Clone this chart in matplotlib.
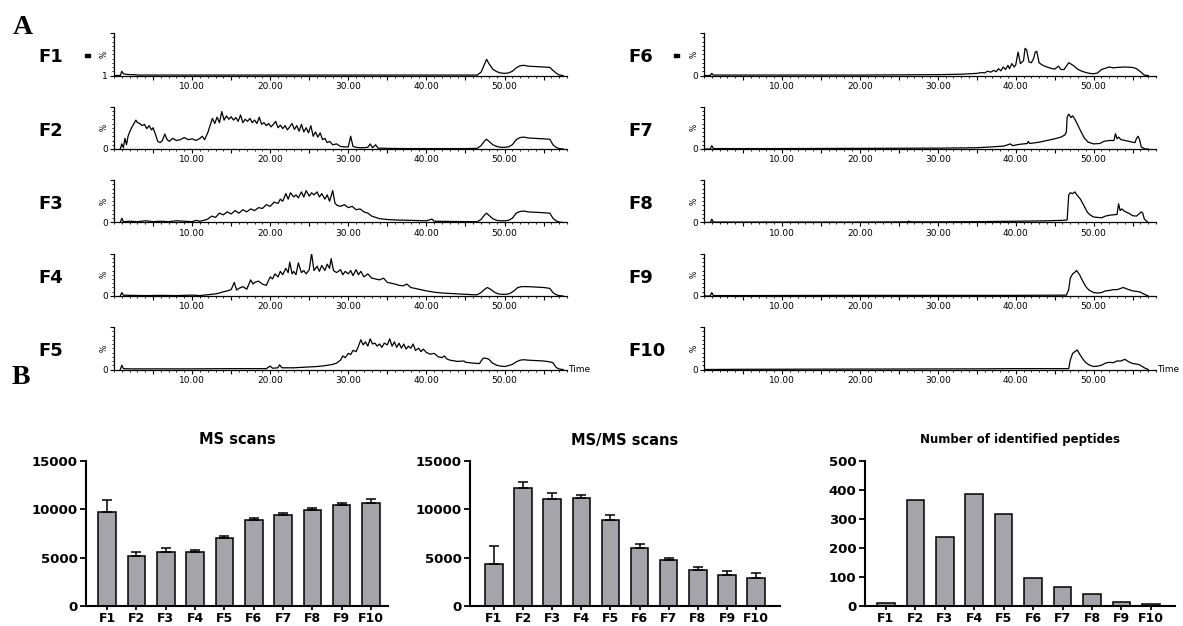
import matplotlib
matplotlib.use("Agg")
import matplotlib.pyplot as plt
from matplotlib.ticker import FixedLocator, FuncFormatter, MultipleLocator
from matplotlib.patches import Rectangle

W, H = 1183, 626

# ---- chromatogram traces (time in min, intensity in %) ----
f1_t = [0, 0.8, 1.0, 1.2, 1.5, 2.0, 2.5, 3.0, 5, 10, 20, 30, 40, 45, 46.5, 47.0, 47.4, 47.7, 48.0, 48.5,
        49.0, 49.5, 50.0, 50.5, 51.0, 51.5, 52.0, 52.5, 53.0, 54.0, 55.0, 55.8, 56.2, 56.6, 57.0, 57.5]
f1_v = [0, 0, 10, 4, 3, 2, 2, 1, 1, 1, 1, 1, 1, 1, 1, 8, 25, 38, 28, 15,
        9, 6, 5, 6, 10, 18, 23, 24, 22, 21, 20, 19, 12, 6, 1, 0]

f2_t = [0.8, 1.0, 1.2, 1.4, 1.6, 1.8, 2.0, 2.2, 2.5, 2.8, 3.0, 3.3, 3.6, 3.9, 4.2, 4.5, 4.8, 5.0, 5.3, 5.6,
        5.9, 6.2, 6.5, 6.8, 7.1, 7.5, 8.0, 8.5, 9.0, 9.5, 10.0, 10.5, 11.0, 11.3, 11.6, 12.0, 12.3, 12.6, 12.9, 13.2,
        13.5, 13.8, 14.1, 14.4, 14.7, 15.0, 15.3, 15.6, 15.9, 16.2, 16.5, 16.8, 17.1, 17.4, 17.7, 18.0, 18.3, 18.6, 18.9, 19.2,
        19.5, 19.8, 20.1, 20.4, 20.7, 21.0, 21.3, 21.6, 21.9, 22.2, 22.5, 22.8, 23.1, 23.4, 23.7, 24.0, 24.3, 24.6, 24.9, 25.2,
        25.5, 25.8, 26.1, 26.4, 26.7, 27.0, 27.3, 27.6, 28.0, 28.5, 29.0, 29.5, 30.0, 30.3, 30.6, 31.0, 31.5, 32.0, 32.5, 32.8,
        33.1, 33.5, 33.8, 34.2, 35, 37, 40, 43, 45, 46.5,
        47.0, 47.4, 47.7, 48.0, 48.5, 49.0, 49.5, 50.0, 50.5, 51.0, 51.5, 52.0, 52.5, 53.0, 54.0, 55.0, 55.8, 56.2, 56.6, 57.0, 57.5]
f2_v = [0, 12, 3, 25, 10, 30, 40, 48, 58, 68, 62, 60, 55, 58, 48, 55, 45, 50, 35, 18,
        15, 20, 35, 22, 18, 25, 20, 22, 27, 22, 24, 20, 25, 30, 22, 38, 55, 72, 60, 75,
        62, 88, 68, 78, 70, 76, 68, 74, 65, 80, 62, 70, 65, 72, 62, 68, 60, 75, 58, 62,
        55, 60, 52, 58, 65, 50, 56, 48, 55, 45, 52, 60, 46, 55, 42, 58, 40, 50, 38, 55,
        30, 40, 28, 38, 22, 25, 15, 18, 10, 12, 6, 5, 5, 30, 6, 4, 3, 3, 4, 12,
        3, 10, 2, 2, 1.5, 1, 1, 1, 1, 1.5,
        8, 18, 23, 18, 10, 6, 4, 4, 5, 10, 22, 27, 28, 26, 25, 24, 23, 10, 4, 1, 0]

f3_t = [0.8, 1.0, 1.2, 2, 3, 4, 5, 6, 7, 8, 9, 10, 10.5, 11, 11.5, 12, 12.5, 13, 13.5, 14,
        14.5, 15, 15.5, 16, 16.5, 17, 17.5, 18, 18.5, 19, 19.5, 20, 20.5, 21, 21.3, 21.6, 22, 22.3, 22.6, 23,
        23.3, 23.6, 24, 24.3, 24.6, 25, 25.3, 25.6, 26, 26.3, 26.6, 27, 27.3, 27.6, 28, 28.3, 28.6, 29, 29.5, 30,
        30.5, 31, 31.5, 32, 32.5, 33, 33.5, 34, 35, 36, 38, 40, 40.7, 41, 43, 45, 46.5,
        47.0, 47.4, 47.7, 48.0, 48.5, 49.0, 49.5, 50.0, 50.5, 51.0, 51.5, 52.0, 52.5, 53.0, 54.0, 55.0, 55.8, 56.2, 56.6, 57.0, 57.5]
f3_v = [0, 10, 2, 3, 2, 4, 2, 3, 2, 4, 3, 2, 5, 3, 5, 8, 15, 12, 22, 18,
        25, 20, 28, 22, 30, 25, 32, 28, 35, 33, 42, 38, 48, 45, 55, 50, 68, 55, 70, 60,
        65, 58, 72, 60, 75, 62, 70, 65, 72, 60, 68, 55, 65, 50, 75, 45, 40, 38, 42, 35,
        38, 30, 32, 25, 22, 15, 12, 9, 7, 6, 5, 4, 8, 3, 2.5, 2, 2,
        7, 17, 22, 17, 9, 5, 4, 4, 5, 10, 22, 26, 27, 25, 24, 23, 22, 10, 4, 1, 0]

f4_t = [0.8, 1.0, 1.2, 2, 4, 6, 8, 10, 11, 12, 13, 13.5, 14, 14.5, 15, 15.4, 15.7, 16, 16.5, 17,
        17.5, 17.8, 18, 18.5, 19, 19.5, 20, 20.3, 20.6, 21, 21.3, 21.6, 22, 22.3, 22.5, 22.8, 23, 23.3, 23.6, 24,
        24.3, 24.6, 25, 25.3, 25.6, 26, 26.3, 26.6, 27, 27.3, 27.6, 27.8, 28.1, 28.5, 29, 29.3, 29.6, 30, 30.3, 30.6,
        31, 31.3, 31.6, 32, 32.5, 33, 33.5, 34, 34.5, 35, 35.5, 36, 36.5, 37, 37.5, 38, 39, 40, 41, 42,
        43, 44, 45, 46, 46.5,
        47.0, 47.4, 47.8, 48.2, 48.7, 49.2, 49.7, 50.2, 50.7, 51.2, 51.7, 52.2, 53.0, 54.0, 55.0, 55.8, 56.2, 56.6, 57.0, 57.5]
f4_v = [0, 8, 2, 1.5, 1, 1.5, 1, 2, 1, 3, 5, 7, 10, 12, 15, 32, 14, 18, 22, 16,
        38, 28, 32, 35, 28, 25, 45, 40, 52, 45, 58, 50, 65, 55, 80, 52, 58, 50, 78, 55,
        60, 52, 62, 100, 60, 70, 58, 72, 60, 75, 65, 88, 60, 55, 62, 50, 58, 52, 60, 48,
        62, 50, 58, 45, 52, 42, 40, 38, 42, 32, 30, 28, 25, 24, 28, 20, 16, 12, 9, 7,
        6, 5, 4, 3, 3,
        8, 15, 20, 16, 9, 5, 4, 4, 6, 12, 20, 22, 22, 21, 20, 18, 8, 3, 1, 0]

f5_t = [0.8, 1.0, 1.2, 2, 5, 10, 15, 19.5, 20, 20.3, 21, 21.2, 21.5, 22, 23, 24, 25, 26, 27, 28,
        28.5, 29, 29.3, 29.6, 30, 30.3, 30.6, 31, 31.3, 31.6, 31.9, 32.2, 32.5, 32.8, 33.1, 33.4, 33.7, 34, 34.3, 34.6,
        35, 35.3, 35.6, 35.9, 36.2, 36.5, 36.8, 37.1, 37.4, 37.7, 38, 38.3, 38.6, 39, 39.3, 39.6, 40, 40.5, 41, 41.5,
        42, 42.3, 42.6, 43, 44, 44.8, 45, 46, 46.8,
        47.0, 47.3, 47.7, 48.0, 48.4, 49.0, 49.5, 50.0, 50.5, 51.0, 51.5, 52.0, 52.5, 53.0, 54.0, 55.0, 55.8, 56.2, 56.6, 57.0, 57.5]
f5_v = [0, 10, 2, 1.5, 1.5, 1.5, 2, 2, 8, 3, 4, 11, 4, 4, 4, 5, 6, 7, 9, 12,
        15, 22, 32, 28, 38, 35, 45, 42, 55, 70, 58, 65, 55, 72, 60, 62, 55, 60, 52, 62,
        58, 72, 55, 65, 52, 62, 50, 60, 48, 55, 50, 60, 45, 50, 42, 48, 40, 36, 38, 30,
        28, 32, 25, 22, 19, 20, 17, 15, 14,
        20, 27, 26, 24, 16, 10, 8, 7, 9, 12, 18, 22, 23, 22, 21, 20, 18, 16, 5, 1, 0]

f6_t = [0, 0.8, 1.0, 1.2, 3, 10, 20, 25, 30, 33, 34, 35, 35.6, 36, 36.4, 36.8, 37.2, 37.5, 37.8, 38.1,
        38.4, 38.7, 39, 39.2, 39.5, 39.8, 40, 40.3, 40.6, 41, 41.2, 41.4, 41.7, 42, 42.3, 42.5, 42.7, 43, 43.3, 43.7,
        44, 44.5, 45, 45.5, 45.8, 46.2, 46.5, 46.8, 47.1, 47.5, 48, 48.5, 49, 49.5, 50, 50.5, 51, 51.5, 52, 52.5,
        53, 54, 55, 55.5, 56, 56.5, 57]
f6_v = [0, 0, 5, 1, 1, 1, 1, 1.5, 2, 3, 4, 5, 7, 6, 10, 8, 12, 9, 16, 11,
        20, 14, 24, 16, 28, 20, 25, 55, 28, 35, 64, 60, 32, 30, 40, 55, 57, 30, 26, 22,
        20, 17, 15, 22, 14, 14, 22, 30, 27, 22, 14, 10, 7, 5, 4, 6, 14, 17, 20, 18,
        19, 20, 19, 16, 9, 1, 0]

f7_t = [0, 0.8, 1.0, 1.2, 3, 10, 20, 30, 33, 35, 37, 38.5, 39.3, 39.6, 40.5, 41.5, 41.6, 41.8, 43, 44,
        45, 45.8, 46.3, 46.5, 46.6, 46.8, 47.1, 47.3, 47.6, 48, 48.4, 48.8, 49.3, 50, 50.8, 51.3, 52, 52.6, 52.8, 53,
        53.2, 53.5, 54.3, 55, 55.3, 55.5, 55.7, 55.9, 56.1, 56.6, 57]
f7_v = [0, 0, 8, 1, 1, 1, 1.5, 2, 2.5, 3, 5, 7, 12, 8, 11, 13, 18, 13, 16, 20,
        24, 28, 33, 40, 75, 82, 74, 78, 70, 55, 40, 26, 16, 12, 13, 18, 20, 20, 36, 24,
        28, 22, 19, 16, 15, 25, 30, 22, 5, 0, 0]

f8_t = [0, 0.8, 1.0, 1.2, 5, 20, 26, 26.3, 26.5, 30, 35, 40, 42, 44, 46, 46.6, 46.8, 47, 47.3, 47.6,
        47.8, 48.3, 48.8, 49.2, 49.6, 50, 51, 51.5, 52, 53, 53.2, 53.4, 53.6, 54, 54.5, 55, 55.5, 55.8, 56.1, 56.3,
        56.5, 57]
f8_v = [0, 0, 8, 1, 1, 1, 1.5, 3, 1.5, 1.5, 2, 3, 3.5, 4, 5, 6, 65, 70, 68, 72,
        66, 55, 38, 24, 17, 13, 11, 15, 17, 19, 44, 28, 32, 26, 22, 16, 15, 20, 25, 22,
        8, 0]

f9_t = [0, 0.8, 1.0, 1.2, 5, 20, 30, 40, 46.5, 46.8, 47, 47.3, 47.6, 47.8, 48.2, 48.6, 49, 49.4, 50, 50.5,
        51, 51.5, 52, 52.5, 53, 53.5, 53.8, 54.2, 55, 55.5, 56, 56.5, 57]
f9_v = [0, 0, 8, 1, 1, 1.5, 1.5, 1.5, 2, 15, 42, 52, 56, 60, 50, 35, 22, 14, 8, 7,
        8, 12, 13, 15, 15, 18, 20, 17, 12, 11, 9, 4, 0]

f10_t = [0, 5, 20, 35, 40, 45, 46.8, 47, 47.3, 47.6, 47.9, 48.2, 48.6, 49, 49.5, 50, 50.5, 51, 51.5, 52,
         52.5, 53, 53.5, 54, 54.5, 55, 55.5, 56, 56.5, 57]
f10_v = [0, 0.5, 1, 1.5, 2, 2, 2, 22, 38, 42, 46, 36, 25, 16, 10, 7, 8, 10, 15, 17,
         16, 20, 20, 24, 18, 14, 13, 10, 4, 0]

trace_names = ["F1", "F2", "F3", "F4", "F5", "F6", "F7", "F8", "F9", "F10"]
trace_t = [f1_t, f2_t, f3_t, f4_t, f5_t, f6_t, f7_t, f8_t, f9_t, f10_t]
trace_v = [f1_v, f2_v, f3_v, f4_v, f5_v, f6_v, f7_v, f8_v, f9_v, f10_v]

# ---- bar chart data ----
fractions = ["F1", "F2", "F3", "F4", "F5", "F6", "F7", "F8", "F9", "F10"]
ms_scans = [9750, 5150, 5550, 5550, 7000, 8900, 9430, 9940, 10400, 10680]
ms_scans_err = [1200, 400, 500, 250, 230, 200, 230, 150, 270, 370]
msms_scans = [4380, 12230, 11050, 11160, 8930, 6030, 4720, 3770, 3240, 2930]
msms_scans_err = [1800, 570, 680, 370, 510, 370, 270, 270, 360, 440]
peptides = [11, 367, 237, 387, 317, 97, 64, 40, 13, 7]


def px_axes(l, t, r, b):
    return [l / W, 1 - b / H, (r - l) / W, (b - t) / H]


fig = plt.figure(figsize=(W / 100, H / 100), dpi=100)

row_tops = [33, 106.5, 180, 253.5, 327]
row_h = 42.5
col_x = [(114, 567), (704, 1156)]
label_x = [38, 628]

for i, name in enumerate(trace_names):
    col = i // 5
    row = i % 5
    l, r = col_x[col]
    top = row_tops[row]
    ax = fig.add_axes(px_axes(l, top, r, top + row_h))
    ax.plot(trace_t[i], trace_v[i], color="black", lw=0.9)
    ax.set_xlim(0, 58)
    ax.set_ylim(0, 100)
    for s in ["top", "right"]:
        ax.spines[s].set_visible(False)
    ax.spines["left"].set_linewidth(0.9)
    ax.spines["bottom"].set_linewidth(0.9)
    ax.xaxis.set_major_locator(FixedLocator([5, 10, 15, 20, 25, 30, 35, 40, 45, 50, 55]))
    ax.xaxis.set_major_formatter(FuncFormatter(lambda x, p: "%.2f" % x if x % 10 == 0 else ""))
    ax.xaxis.set_minor_locator(MultipleLocator(1))
    ax.tick_params(axis="x", which="major", length=3, width=0.8, labelsize=6.5, pad=1.5, colors="black")
    ax.tick_params(axis="x", which="minor", length=1.5, width=0.6)
    ax.set_yticks([0, 100])
    ax.set_yticklabels(["1" if name == "F1" else "0", ""])
    ax.yaxis.set_minor_locator(MultipleLocator(10))
    ax.tick_params(axis="y", which="major", length=3, width=0.8, labelsize=6.5, pad=1.5)
    ax.tick_params(axis="y", which="minor", length=1.5, width=0.6)
    ax.text(-0.012, 0.5, "%", transform=ax.transAxes, rotation=90, fontsize=5.5,
            ha="right", va="center")
    if row == 4:
        ax.text(1.003, 0.0, "Time", transform=ax.transAxes, fontsize=6.5,
                ha="left", va="center")
    fig.text(label_x[col] / W, 1 - (top + row_h / 2 + 3) / H, name, fontsize=13,
             fontweight="bold", ha="left", va="center")

# little dashes after F1 / F6
for dx in [85, 674]:
    fig.patches.append(Rectangle((dx / W, 1 - 57 / H), 5 / W, 3.5 / H,
                                 transform=fig.transFigure, color="black"))

fig.text(13 / W, 1 - 28 / H, "A", fontsize=20, fontweight="bold",
         family="Liberation Serif", ha="left", va="center")
fig.text(12 / W, 1 - 378 / H, "B", fontsize=20, fontweight="bold",
         family="Liberation Serif", ha="left", va="center")

# ---- bar charts ----
bar_specs = [
    ("MS scans", ms_scans, ms_scans_err, (86, 388), 15000, 5000, 10.5, (0.28, 10.58)),
    ("MS/MS scans", msms_scans, msms_scans_err, (470, 780), 15000, 5000, 10.5, (0.18, 10.82)),
    ("Number of identified peptides", peptides, None, (865, 1175), 500, 100, 8.5, (0.29, 10.82)),
]
xpos = list(range(1, len(fractions) + 1))
for title, vals, errs, (l, r), ymax, ystep, tsize, xl in bar_specs:
    ax = fig.add_axes(px_axes(l, 461, r, 606))
    if errs is not None:
        ax.bar(xpos, vals, width=0.6, color="#a4a4aa", edgecolor="black", linewidth=1.1,
               yerr=[[0] * len(errs), errs], capsize=3.5,
               error_kw=dict(elinewidth=1.1, capthick=1.1, ecolor="black"), zorder=2)
    else:
        ax.bar(xpos, vals, width=0.6, color="#a4a4aa", edgecolor="black", linewidth=1.1, zorder=2)
    ax.set_xlim(*xl)
    ax.set_ylim(0, ymax)
    ax.set_yticks(range(0, ymax + 1, ystep))
    ax.set_xticks(xpos)
    ax.set_xticklabels(fractions)
    for s in ["top", "right"]:
        ax.spines[s].set_visible(False)
    ax.spines["left"].set_linewidth(1.5)
    ax.spines["bottom"].set_linewidth(1.5)
    ax.tick_params(axis="y", length=4, width=1.3, labelsize=9.5, pad=2)
    ax.tick_params(axis="x", length=3, width=1.3, labelsize=9, pad=1)
    for lab in ax.get_xticklabels() + ax.get_yticklabels():
        lab.set_fontweight("bold")
    fig.text((l + r) / 2 / W, 1 - 440 / H, title, fontsize=tsize, fontweight="bold",
             ha="center", va="center")

fig.savefig("out.png", dpi=100)
